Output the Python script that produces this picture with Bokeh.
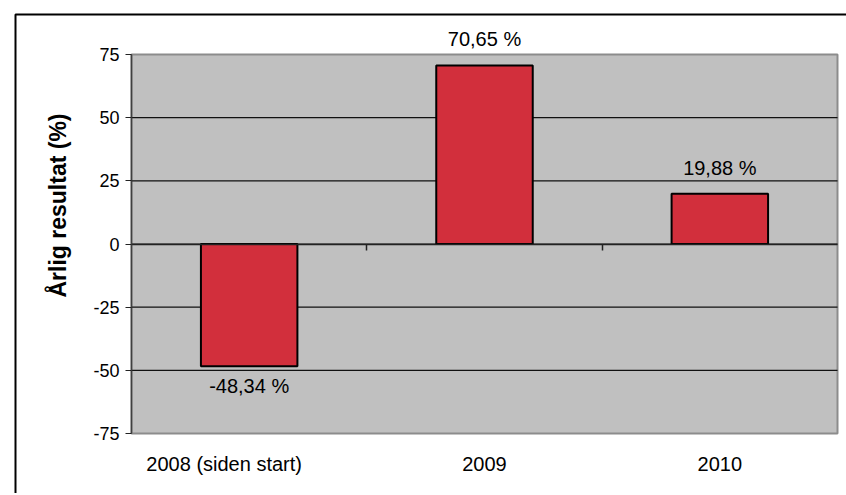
import math
from bokeh.plotting import figure
from bokeh.models import (Range1d, FixedTicker, ColumnDataSource, LabelSet, Label,
                          LinearAxis)
from bokeh.embed import file_html
from bokeh.resources import INLINE
from bokeh.core.properties import value

categories = ["2008 (siden start)", "2009", "2010"]
results = [-48.34, 70.65, 19.88]
labels = ["-48,34 %", "70,65 %", "19,88 %"]
y_ticks = [-75, -50, -25, 0, 25, 50, 75]
y_title = "Årlig resultat (%)"

W, H = 846, 493
# plot-area placement in pixels (layout only)
PL, PR, PT, PB = 131, 837, 54, 433
BORDER_L, BORDER_T = 15, 14

n = len(categories)
centers = [i + 0.5 for i in range(n)]
bounds = [i for i in range(1, n)]
ymin, ymax = min(y_ticks), max(y_ticks)
grid_ticks = [t for t in y_ticks if ymin < t < ymax]

sx = n / (PR - PL)
sy = (ymax - ymin) / (PB - PT)
x_range = Range1d(0 - PL * sx, n + (W - PR) * sx)
y_range = Range1d(ymin - (H - PB) * sy, ymax + PT * sy)

src = ColumnDataSource(dict(
    x=centers, top=results, label=labels,
    yoff=[-20 if v < 0 else 26 for v in results],
))

p = figure(width=W, height=H, output_backend="svg", toolbar_location=None,
           x_range=x_range, y_range=y_range, x_axis_type=None, y_axis_type=None,
           min_border=0, background_fill_color="white", border_fill_color="white",
           outline_line_color=None)

# outer chart border (top and left edges visible in the window)
bx = x_range.start + BORDER_L * sx
by = y_range.end - BORDER_T * sy
p.line(x=[x_range.end, bx, bx], y=[by, by, y_range.start],
       line_color="black", line_width=2)

# plot area
p.quad(left=0, right=n, bottom=ymin, top=ymax, fill_color="#C0C0C0",
       line_color="#8C8C8C", line_width=2)

# horizontal gridlines inside the plot area
p.segment(x0=[0] * len(grid_ticks), x1=[n] * len(grid_ticks), y0=grid_ticks, y1=grid_ticks,
          line_color="#111111", line_width=1.2)

p.vbar(x="x", top="top", bottom=0, width=0.41, source=src,
       fill_color="#D22F3C", line_color="black", line_width=2)

# zero line with category separators
zax = LinearAxis(fixed_location=0, bounds=(0, n), ticker=FixedTicker(ticks=bounds),
                 axis_line_color="#222222", axis_line_width=1.5,
                 major_tick_line_color="#222222", major_tick_line_width=1.5,
                 major_tick_out=6, major_tick_in=0, minor_tick_line_color=None,
                 major_label_text_alpha=0)
p.add_layout(zax, "below")

# y axis
yax = LinearAxis(fixed_location=0, bounds=(ymin, ymax), ticker=FixedTicker(ticks=y_ticks),
                 major_label_overrides={t: str(t) for t in y_ticks},
                 major_label_text_font="Liberation Sans", major_label_text_font_size="18px",
                 major_label_text_color="black", major_label_standoff=6,
                 major_tick_out=6, major_tick_in=0, minor_tick_line_color=None,
                 axis_line_color="#404040", axis_line_width=1.5,
                 major_tick_line_color="#222222")
p.add_layout(yax, "left")

# category axis
nb = "\u00a0"
xax = LinearAxis(fixed_location=ymin, bounds=(0, n), ticker=FixedTicker(ticks=centers),
                 major_label_overrides={c: (cat + nb * 9 if i == 0 else cat)
                                        for i, (c, cat) in enumerate(zip(centers, categories))},
                 major_label_text_font="Liberation Sans", major_label_text_font_size="20px",
                 major_label_text_color="black", major_label_standoff=19,
                 major_tick_line_color=None, minor_tick_line_color=None,
                 axis_line_color=None, major_tick_out=0, major_tick_in=0)
p.add_layout(xax, "below")

p.add_layout(LabelSet(x="x", y="top", text="label", source=src, y_offset="yoff",
                      text_align="center", text_baseline="middle",
                      text_font=value("Liberation Sans"), text_font_size=value("20px"),
                      text_color=value("black")))

p.add_layout(Label(x=57, y=H - 205, x_units="screen", y_units="screen", text=y_title,
                   angle=math.pi / 2, text_align="center", text_baseline="middle",
                   text_font="Liberation Sans", text_font_style="bold",
                   text_font_size="23px", text_color="black"))

open("out.html", "w").write(file_html(p, INLINE))
